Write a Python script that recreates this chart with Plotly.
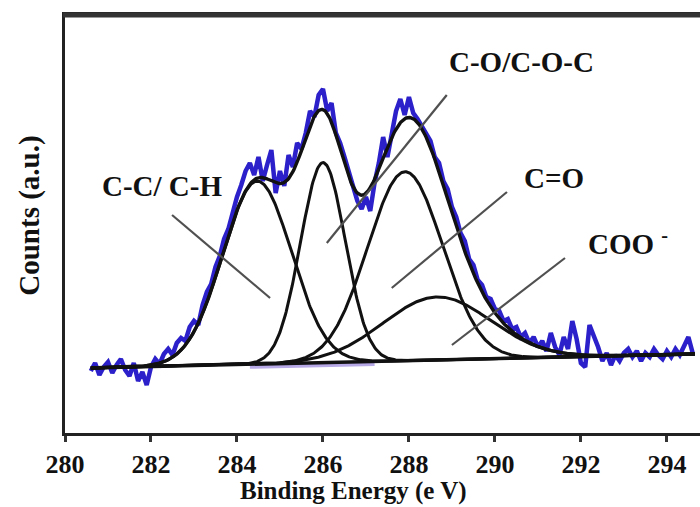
import numpy as np
import plotly.graph_objects as go

# ---- measured spectrum (C 1s), 0.1 eV steps from 280.6 to 294.6 eV ----
energy_start = 280.6
energy_step = 0.1
counts = [
    62, 70, 58, 66, 71, 60, 68, 74, 63, 57,
    70, 52, 61, 48, 66, 74, 69, 79, 84, 78,
    90, 95, 92, 106, 112, 108, 128, 141, 149, 166,
    177, 194, 204, 222, 236, 248, 262, 270, 258, 276,
    252, 268, 283, 240, 262, 247, 278, 266, 290, 284,
    300, 322, 316, 338, 344, 322, 330, 300, 290, 276,
    262, 248, 232, 224, 236, 222, 250, 270, 296, 276,
    302, 322, 334, 318, 336, 320, 314, 306, 300, 292,
    276, 270, 252, 244, 226, 216, 200, 192, 174, 168,
    153, 148, 136, 134, 124, 122, 112, 114, 104, 106,
    96, 100, 90, 96, 86, 92, 82, 100, 86, 78,
    96, 84, 112, 94, 70, 66, 108, 98, 86, 72,
    80, 68, 78, 72, 80, 84, 76, 82, 72, 80,
    76, 84, 78, 74, 82, 76, 84, 78, 86, 96,
    80,
]

# ---- fitted components (Gaussian peaks) ----
peak_names = ["C-C/C-H", "C-O/C-O-C", "C=O", "COO-"]
peak_centers = [284.47, 286.0, 287.91, 288.65]   # eV
peak_heights = [183, 200, 189, 63]               # counts above background
peak_sigmas = [0.80, 0.52, 0.87, 1.25]           # eV

# ---- linear background ----
bg_energy = [280.6, 294.65]
bg_counts = [65, 79.05]

# ---- tick labels ----
tick_vals = [280, 282, 284, 286, 288, 290, 292, 294]
tick_text = ["280", "282", "284", "286", "288", "290", "292", "294"]

# ---- label texts ----
label_texts = ["C-C/ C-H", "C-O/C-O-C", "C=O", "COO <sup>-</sup>"]

# ----------------------------------------------------------------------
energy = np.round(energy_start + energy_step * np.arange(len(counts)), 2)
xf = np.linspace(bg_energy[0], bg_energy[1], 700)
bg = np.interp(xf, bg_energy, bg_counts)
comps = [h * np.exp(-(xf - c) ** 2 / (2 * s * s))
         for c, h, s in zip(peak_centers, peak_heights, peak_sigmas)]
envelope = bg + np.sum(comps, axis=0)

SERIF = "Liberation Serif"
BLACK = "#111111"

fig = go.Figure()

# faint lavender shading of the background
lav_x = [284.3, 287.2]
fig.add_trace(go.Scatter(x=lav_x, y=np.interp(lav_x, bg_energy, bg_counts) - 2.5,
                         mode="lines", line=dict(color="#b7a8e6", width=4),
                         hoverinfo="skip"))

fig.add_trace(go.Scatter(x=energy, y=counts, mode="lines", name="data",
                         line=dict(color="#2b20c9", width=4.5)))

for name, comp in zip(peak_names, comps):
    fig.add_trace(go.Scatter(x=xf, y=bg + comp, mode="lines", name=name,
                             line=dict(color=BLACK, width=3)))

fig.add_trace(go.Scatter(x=xf, y=bg, mode="lines", name="background",
                         line=dict(color=BLACK, width=3.4)))
fig.add_trace(go.Scatter(x=xf, y=envelope, mode="lines", name="envelope",
                         line=dict(color=BLACK, width=3.4)))

# leader lines (data coordinates) and labels
leader_lines = [
    (282.49, 218, 284.77, 135),
    (288.88, 338, 286.09, 190),
    (290.28, 241, 287.60, 145),
    (291.63, 175, 289.00, 88),
]
label_pos = [(282.26, 247), (290.62, 371), (291.38, 255), (293.10, 191)]

shapes = []
for x0, y0, x1, y1 in leader_lines:
    shapes.append(dict(type="line", xref="x", yref="y", x0=x0, y0=y0, x1=x1, y1=y1,
                       line=dict(color="#505050", width=2.2)))
# thicker top frame edge
shapes.append(dict(type="line", xref="paper", yref="paper", x0=-0.003, x1=1, y0=1, y1=1,
                   line=dict(color="#333333", width=5)))

annotations = []
for (lx, ly), t in zip(label_pos, label_texts):
    annotations.append(dict(x=lx, y=ly, xref="x", yref="y", text="<b>%s</b>" % t,
                            showarrow=False, xanchor="center", yanchor="middle",
                            font=dict(family=SERIF, size=29, color="#111111")))

annotations.append(dict(x=0.455, y=-0.1395, xref="paper", yref="paper",
                        text="<b>Binding Energy (e V)</b>", showarrow=False,
                        xanchor="center", yanchor="middle",
                        font=dict(family=SERIF, size=25, color="#111111")))
annotations.append(dict(x=-0.055, y=0.52, xref="paper", yref="paper",
                        text="<b>Counts (a.u.)</b>", showarrow=False, textangle=-90,
                        xanchor="center", yanchor="middle",
                        font=dict(family=SERIF, size=29, color="#111111")))

fig.update_layout(
    width=700, height=507,
    margin=dict(l=65, r=0, t=15, b=74, pad=0),
    plot_bgcolor="white", paper_bgcolor="white",
    showlegend=False,
    shapes=shapes, annotations=annotations,
    xaxis=dict(range=[280, 294.77], showgrid=False, zeroline=False,
               showline=True, mirror=True, linecolor="#222222", linewidth=3,
               ticks="outside", ticklen=6, tickwidth=3, tickcolor="#333333",
               tickvals=tick_vals, ticktext=["<b>%s</b>" % t for t in tick_text],
               tickfont=dict(family=SERIF, size=26, color="#111111")),
    yaxis=dict(range=[0, 418], showgrid=False, zeroline=False,
               showline=True, mirror=False, linecolor="#222222", linewidth=3,
               showticklabels=False, ticks=""),
)

fig.write_html("out.html")
